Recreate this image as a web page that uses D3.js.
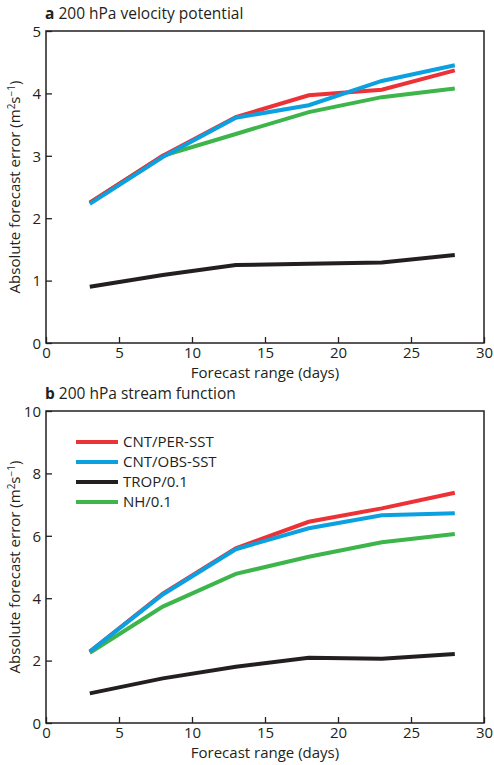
<!DOCTYPE html>
<html>
<head>
<meta charset="utf-8">
<script src="https://cdn.jsdelivr.net/npm/d3@7"></script>
<style>
  body { margin: 0; background: #fff; }
  text { font-family: "Open Sans", "Noto Sans", sans-serif; fill: #231f20; }
</style>
</head>
<body>
<svg id="chart" width="494" height="765"></svg>
<script>
const days = [3, 8, 13, 18, 23, 28];
const seriesNames = ["CNT/PER-SST", "CNT/OBS-SST", "TROP/0.1", "NH/0.1"];
const seriesColors = ["#ed3237", "#0ba0e0", "#231f20", "#3db54a"];

// panel a: 200 hPa velocity potential
const velPer = [2.25, 3.00, 3.62, 3.97, 4.06, 4.37];
const velObs = [2.23, 2.98, 3.61, 3.81, 4.20, 4.45];
const velTrop = [0.90, 1.09, 1.25, 1.27, 1.29, 1.41];
const velNh = [2.25, 3.00, 3.35, 3.70, 3.94, 4.08];

// panel b: 200 hPa stream function
const strPer = [2.29, 4.15, 5.60, 6.45, 6.88, 7.38];
const strObs = [2.29, 4.12, 5.57, 6.24, 6.66, 6.72];
const strTrop = [0.95, 1.43, 1.80, 2.09, 2.06, 2.21];
const strNh = [2.25, 3.73, 4.78, 5.33, 5.79, 6.06];

const xTicks = [0, 5, 10, 15, 20, 25, 30];

const svg = d3.select("#chart");
const left = 46, right = 484;

function panel(cfg) {
    const g = svg.append("g");
    const x = d3.scaleLinear().domain([0, 30]).range([left, right]);
    const y = d3.scaleLinear().domain([0, cfg.ymax]).range([cfg.bottom, cfg.top]);

    // box
    g.append("rect")
        .attr("x", left).attr("y", cfg.top)
        .attr("width", right - left).attr("height", cfg.bottom - cfg.top)
        .attr("fill", "none").attr("stroke", "#231f20").attr("stroke-width", 1.5);

    const xAxis = g.append("g")
        .attr("transform", `translate(0,${cfg.bottom})`)
        .call(d3.axisBottom(x).tickValues(xTicks).tickFormat(d3.format("d"))
            .tickSizeInner(-6).tickSizeOuter(0));
    xAxis.select(".domain").remove();
    xAxis.selectAll("line").attr("stroke", "#231f20").attr("stroke-width", 1.3);
    xAxis.selectAll("text").attr("font-size", 15).attr("dy", "0.75em").attr("y", 4);

    const yAxis = g.append("g")
        .attr("transform", `translate(${left},0)`)
        .call(d3.axisLeft(y).tickValues(cfg.yTicks).tickFormat(d3.format("d"))
            .tickSizeInner(-6).tickSizeOuter(0));
    yAxis.select(".domain").remove();
    yAxis.selectAll("line").attr("stroke", "#231f20").attr("stroke-width", 1.3);
    yAxis.selectAll("text").attr("font-size", 15).attr("x", -5).attr("dy", "0.35em");

    g.append("text")
        .attr("x", (left + right) / 2).attr("y", cfg.bottom + 35)
        .attr("text-anchor", "middle").attr("font-size", 15)
        .text("Forecast range (days)");

    g.append("text")
        .attr("transform", `translate(20,${(cfg.top + cfg.bottom) / 2}) rotate(-90)`)
        .attr("text-anchor", "middle").attr("font-size", 15)
        .html('Absolute forecast error (m<tspan font-size="10" dy="-5">2</tspan><tspan dy="5">s</tspan><tspan font-size="10" dy="-5">\u22121</tspan><tspan dy="5">)</tspan>');

    const title = g.append("text")
        .attr("x", left - 1).attr("y", cfg.top - 12)
        .attr("font-size", 15.5);
    title.append("tspan").attr("font-weight", "bold").text(cfg.letter);
    title.append("tspan").text(" " + cfg.title);

    const line = d3.line().x((d, i) => x(days[i])).y(d => y(d));
    // draw order: black, green, red, blue
    [2, 3, 0, 1].forEach(k => {
        g.append("path")
            .datum(cfg.series[k])
            .attr("d", line)
            .attr("fill", "none")
            .attr("stroke", seriesColors[k])
            .attr("stroke-width", 4)
            .attr("stroke-linejoin", "miter");
    });

    if (cfg.legend) {
        const lg = g.append("g");
        seriesNames.forEach((name, i) => {
            const yy = 442 + i * 20;
            lg.append("line")
                .attr("x1", 76).attr("x2", 118).attr("y1", yy).attr("y2", yy)
                .attr("stroke", seriesColors[i]).attr("stroke-width", 4);
            lg.append("text")
                .attr("x", 123).attr("y", yy).attr("dy", "0.35em")
                .attr("font-size", 15).text(name);
        });
    }
}

panel({
    letter: "a", title: "200 hPa velocity potential",
    top: 31, bottom: 343, ymax: 5, yTicks: [0, 1, 2, 3, 4, 5],
    series: [velPer, velObs, velTrop, velNh], legend: false
});

panel({
    letter: "b", title: "200 hPa stream function",
    top: 411, bottom: 723, ymax: 10, yTicks: [0, 2, 4, 6, 8, 10],
    series: [strPer, strObs, strTrop, strNh], legend: true
});
</script>
</body>
</html>
